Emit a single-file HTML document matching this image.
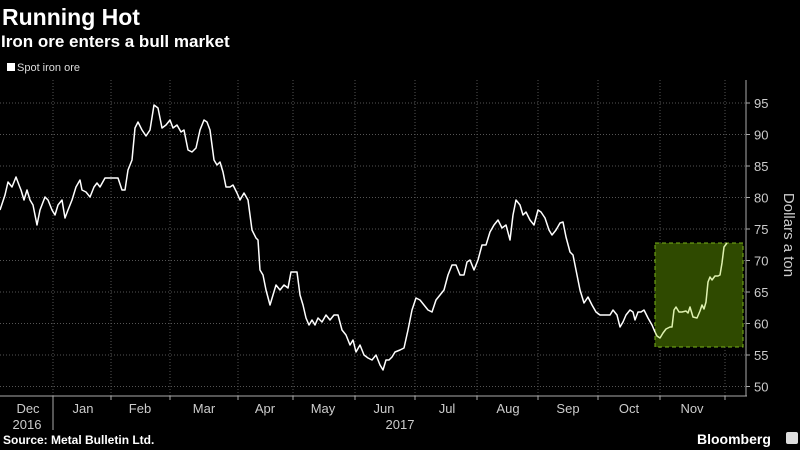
<!DOCTYPE html>
<html><head><meta charset="utf-8"><style>
body{margin:0;background:#000;width:800px;height:450px;overflow:hidden;font-family:"Liberation Sans",sans-serif;color:#fff}
</style></head><body>
<svg width="800" height="450" xmlns="http://www.w3.org/2000/svg" style="position:absolute;left:0;top:0">
<rect width="800" height="450" fill="#000"/>
<text x="2" y="25" font-size="23" font-weight="bold" fill="#fff" font-family="Liberation Sans">Running Hot</text>
<text x="1" y="47" font-size="17" font-weight="bold" fill="#fff" font-family="Liberation Sans">Iron ore enters a bull market</text>
<rect x="7" y="63" width="8" height="8" fill="#fff"/>
<text x="17" y="71" font-size="11" fill="#ddd" font-family="Liberation Sans">Spot iron ore</text>
<g stroke="#555" stroke-width="1" stroke-dasharray="1,2">
<line x1="0" x2="746" y1="103" y2="103"/><line x1="0" x2="746" y1="134.5" y2="134.5"/><line x1="0" x2="746" y1="166" y2="166"/><line x1="0" x2="746" y1="197.5" y2="197.5"/><line x1="0" x2="746" y1="229" y2="229"/><line x1="0" x2="746" y1="260.5" y2="260.5"/><line x1="0" x2="746" y1="292" y2="292"/><line x1="0" x2="746" y1="323.5" y2="323.5"/><line x1="0" x2="746" y1="355" y2="355"/><line x1="0" x2="746" y1="386.5" y2="386.5"/>
<line x1="53" x2="53" y1="80" y2="396"/><line x1="111" x2="111" y1="80" y2="396"/><line x1="170" x2="170" y1="80" y2="396"/><line x1="238" x2="238" y1="80" y2="396"/><line x1="293" x2="293" y1="80" y2="396"/><line x1="355" x2="355" y1="80" y2="396"/><line x1="415" x2="415" y1="80" y2="396"/><line x1="477" x2="477" y1="80" y2="396"/><line x1="538" x2="538" y1="80" y2="396"/><line x1="598" x2="598" y1="80" y2="396"/><line x1="660" x2="660" y1="80" y2="396"/><line x1="725" x2="725" y1="80" y2="396"/>
</g>
<line x1="0" x2="747" y1="396" y2="396" stroke="#aaa"/>
<line x1="746" x2="746" y1="80" y2="396" stroke="#aaa"/>
<g stroke="#aaa"><line x1="53" x2="53" y1="396" y2="400"/><line x1="111" x2="111" y1="396" y2="400"/><line x1="170" x2="170" y1="396" y2="400"/><line x1="238" x2="238" y1="396" y2="400"/><line x1="293" x2="293" y1="396" y2="400"/><line x1="355" x2="355" y1="396" y2="400"/><line x1="415" x2="415" y1="396" y2="400"/><line x1="477" x2="477" y1="396" y2="400"/><line x1="538" x2="538" y1="396" y2="400"/><line x1="598" x2="598" y1="396" y2="400"/><line x1="660" x2="660" y1="396" y2="400"/><line x1="725" x2="725" y1="396" y2="400"/><line x1="53" x2="53" y1="400" y2="430"/></g>
<g font-size="13" fill="#ccc" font-family="Liberation Sans">
<text x="754" y="103" dy="5">95</text><text x="754" y="134.5" dy="5">90</text><text x="754" y="166" dy="5">85</text><text x="754" y="197.5" dy="5">80</text><text x="754" y="229" dy="5">75</text><text x="754" y="260.5" dy="5">70</text><text x="754" y="292" dy="5">65</text><text x="754" y="323.5" dy="5">60</text><text x="754" y="355" dy="5">55</text><text x="754" y="386.5" dy="5">50</text>
</g>
<g stroke="#aaa"><line x1="746" x2="750" y1="103" y2="103"/><line x1="746" x2="750" y1="134.5" y2="134.5"/><line x1="746" x2="750" y1="166" y2="166"/><line x1="746" x2="750" y1="197.5" y2="197.5"/><line x1="746" x2="750" y1="229" y2="229"/><line x1="746" x2="750" y1="260.5" y2="260.5"/><line x1="746" x2="750" y1="292" y2="292"/><line x1="746" x2="750" y1="323.5" y2="323.5"/><line x1="746" x2="750" y1="355" y2="355"/><line x1="746" x2="750" y1="386.5" y2="386.5"/></g>
<text transform="translate(784,235) rotate(90)" text-anchor="middle" font-size="15" fill="#ccc" font-family="Liberation Sans">Dollars a ton</text>
<g font-size="13" fill="#ccc" font-family="Liberation Sans" text-anchor="middle">
<text x="28" y="413">Dec</text><text x="27" y="429">2016</text><text x="83" y="413">Jan</text><text x="140" y="413">Feb</text><text x="204" y="413">Mar</text><text x="265" y="413">Apr</text><text x="323" y="413">May</text><text x="384" y="413">Jun</text><text x="400" y="429">2017</text><text x="447" y="413">Jul</text><text x="508" y="413">Aug</text><text x="568" y="413">Sep</text><text x="629" y="413">Oct</text><text x="692" y="413">Nov</text>
</g>
<text x="3" y="444" font-size="12" font-weight="bold" fill="#fff" font-family="Liberation Sans">Source: Metal Bulletin Ltd.</text>
<text x="697" y="444" font-size="14" font-weight="bold" fill="#fff" font-family="Liberation Sans">Bloomberg</text>
<rect x="786" y="432" width="12" height="12" rx="2" fill="#ddd"/>
<rect x="655" y="243" width="88" height="104" fill="#2f4a00" stroke="#7ab317" stroke-dasharray="4,3"/>
<polyline fill="none" stroke="#fff" stroke-width="1.5" stroke-linejoin="round" points="0,210 5,195 8,182 12,187 16,177 19,185 21,190 24,200 27,190 30,200 33,205 37,225 40,210 45,197 48,200 52,210 55,215 58,205 62,200 65,218 68,210 72,200 76,187 80,180 82,190 86,192 90,197 94,187 97,183 100,187 105,178 110,178 118,178 122,190 125,190 128,170 132,160 135,128 138,122 142,130 146,136 150,130 154,105 158,108 162,128 166,125 170,120 173,128 177,125 181,132 184,130 188,150 192,152 196,148 200,130 204,120 207,122 210,130 214,160 217,165 220,162 223,172 226,187 230,187 233,185 237,193 240,200 244,193 248,200 252,230 256,238 258,240 260,270 263,275 266,290 270,305 273,295 276,285 280,290 284,285 288,288 291,272 297,272 300,295 303,305 306,318 309,325 312,320 315,325 318,318 322,322 326,315 330,320 334,315 338,315 342,330 346,335 350,345 353,340 356,352 360,345 364,355 368,358 372,360 376,355 380,365 383,370 386,360 389,360 392,357 395,352 400,350 404,348 408,330 412,310 416,298 420,300 424,305 428,310 432,312 436,300 440,295 444,290 448,275 452,265 456,265 460,275 464,275 467,262 470,260 474,270 478,260 482,245 486,245 490,232 494,225 498,220 502,228 506,225 510,240 513,215 516,200 520,205 523,215 526,212 530,220 534,225 538,210 541,212 545,218 549,230 552,235 556,230 560,223 563,222 566,237 570,252 573,255 576,270 580,290 584,303 588,297 592,305 596,312 600,315 605,315 610,315 613,310 617,315 620,327 623,322 626,315 630,310 633,312 635,320 638,312 641,312 644,310 648,318 652,325 655,332"/>
<polyline fill="none" stroke="#dff2b0" stroke-width="1.5" stroke-linejoin="round" points="655,332 657,336 660,338 663,333 666,329 670,327 672,327 674,310 676,307 679,312 682,312 686,311 688,313 690,307 693,317 697,318 700,311 702,305 704,309 706,302 708,282 710,277 712,280 715,276 718,276 720,275 722,263 724,247 727,243"/>
</svg>
</body></html>
